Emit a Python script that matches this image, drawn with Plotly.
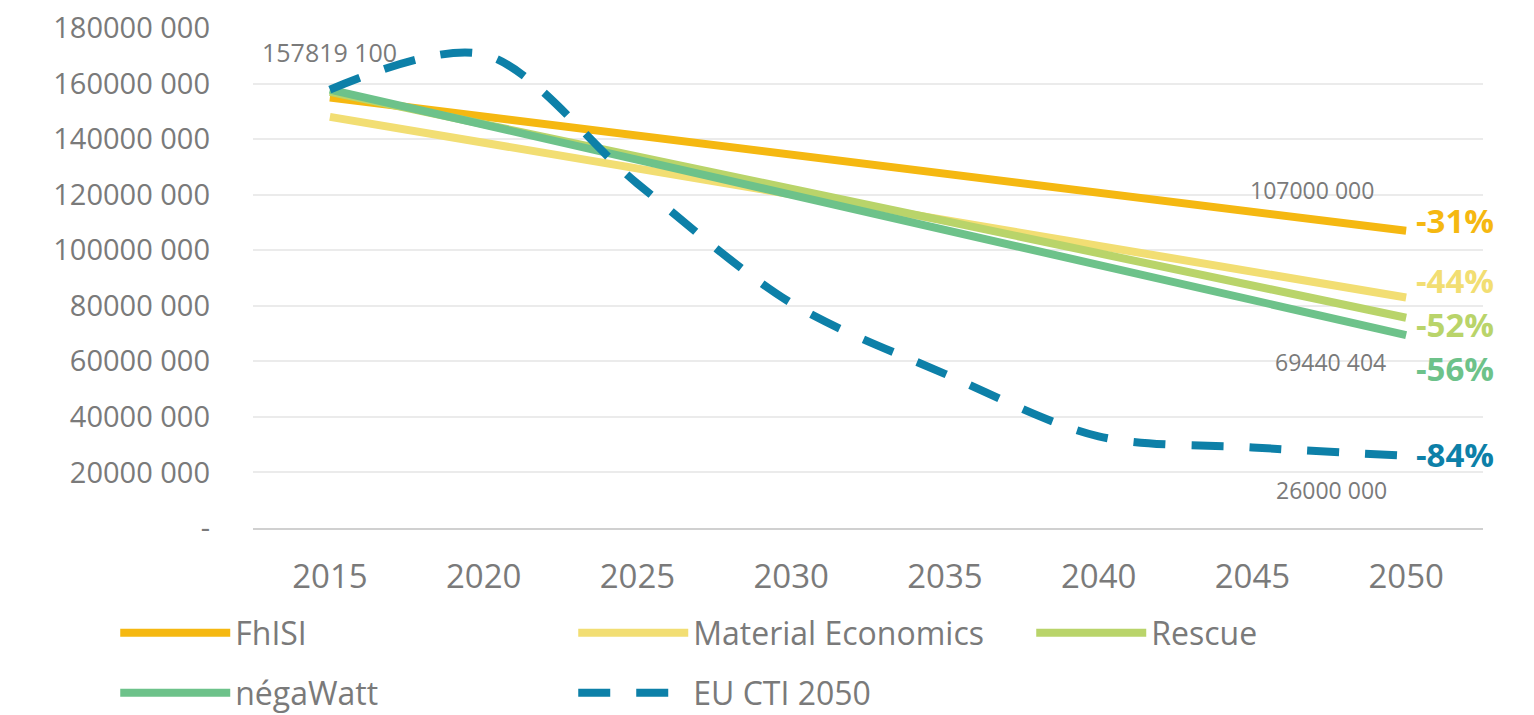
import plotly.graph_objects as go

years = ["2015", "2020", "2025", "2030", "2035", "2040", "2045", "2050"]
fhisi = [155000000, None, None, None, None, None, None, 107000000]
material_economics = [148000000, None, None, None, None, None, None, 83000000]
rescue = [157000000, None, None, None, None, None, None, 75700000]
negawatt = [157819100, None, None, None, None, None, None, 69440404]
eu_cti = [157819100, 170500000, 124000000, 81000000, 55500000, 33000000, 29000000, 26000000]

series_names = ["FhISI", "Material Economics", "Rescue", "négaWatt", "EU CTI 2050"]
series_colors = ["#F5B811", "#F2DE73", "#B9D46A", "#6DC28A", "#0D80A8"]
pct_labels = ["-31%", "-44%", "-52%", "-56%", "-84%"]

ytick_vals = [0, 20000000, 40000000, 60000000, 80000000, 100000000, 120000000, 140000000, 160000000, 180000000]
ytick_text = ["-", "20000 000", "40000 000", "60000 000", "80000 000", "100000 000",
              "120000 000", "140000 000", "160000 000", "180000 000"]

value_labels = [("2015", 157819100, "157819 100"), ("2050", 107000000, "107000 000"),
                ("2050", 69440404, "69440 404"), ("2050", 26000000, "26000 000")]

FONT = "Open Sans"
GRAY = "#7a7a7a"

fig = go.Figure()
data_series = [fhisi, material_economics, rescue, negawatt, eu_cti]
legend_ids = ["legend", "legend", "legend", "legend2", "legend2"]
for i, (name, ys, col, lg) in enumerate(zip(series_names, data_series, series_colors, legend_ids)):
    if i < 4:
        line = dict(color=col, width=8)
    else:
        line = dict(color=col, width=8, dash="32px,26px", shape="spline", smoothing=0.9)
    fig.add_trace(go.Scatter(x=years, y=ys, name=name, mode="lines", connectgaps=True,
                             line=line, legend=lg))

# percentage labels at right end
end_vals = [s[-1] for s in data_series]
pct_shifts = [10, 17, -7, -33, 1]
idx_end = years.index("2050")
for txt, v, col, ysh in zip(pct_labels, end_vals, series_colors, pct_shifts):
    fig.add_annotation(x=idx_end, y=v, xref="x", yref="y", text="<b>" + txt + "</b>",
                       showarrow=False, xanchor="left", xshift=8, yshift=ysh,
                       font=dict(family=FONT, size=33, color=col))

val_shifts = [(0, 38), (-94, 41), (-76, -27), (-75, -34)]
val_sizes = [25, 23, 23, 23]
for (xv, yv, txt), (xs, ysh), sz in zip(value_labels, val_shifts, val_sizes):
    fig.add_annotation(x=years.index(xv), y=yv, xref="x", yref="y", text=txt,
                       showarrow=False, xshift=xs, yshift=ysh,
                       font=dict(family=FONT, size=sz, color=GRAY))

legend_common = dict(orientation="h", xanchor="left", yanchor="top", entrywidth=333,
                     entrywidthmode="pixels", itemwidth=110,
                     font=dict(family=FONT, size=32, color=GRAY), bgcolor="rgba(0,0,0,0)")

fig.update_layout(
    width=1534, height=715,
    margin=dict(l=253, r=51, t=28, b=187, autoexpand=False),
    paper_bgcolor="white", plot_bgcolor="white",
    font=dict(family=FONT, color=GRAY),
    xaxis=dict(type="category", range=[-0.5, 7.5], showgrid=False,
               showline=True, linecolor="#d0d0d0", linewidth=2,
               tickfont=dict(family=FONT, size=33, color=GRAY), ticklabelstandoff=18),
    yaxis=dict(range=[0, 180000000], tickvals=ytick_vals, ticktext=ytick_text,
               showgrid=True, gridcolor="#ebebeb", gridwidth=2, zeroline=False,
               tickfont=dict(family=FONT, size=29, color=GRAY), ticklabelstandoff=42),
    legend=dict(x=-0.112, y=-0.155, **legend_common),
    legend2=dict(x=-0.112, y=-0.275, **legend_common),
    showlegend=True,
)

fig.write_html("out.html")
